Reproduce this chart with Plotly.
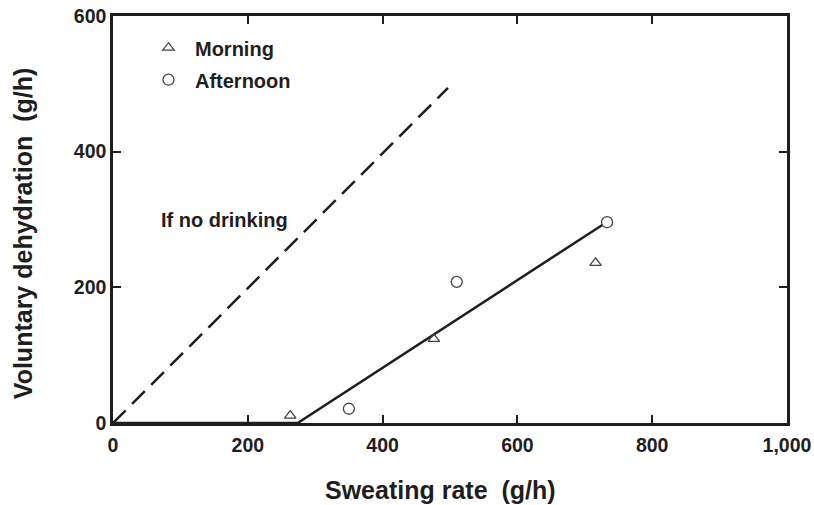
import plotly.graph_objects as go

# Data
morning_x = [263, 476, 716]
morning_y = [11, 124, 236]
afternoon_x = [350, 510, 733]
afternoon_y = [21, 208, 296]
fit_x = [0, 274, 726]
fit_y = [0, 0, 292]
nodrink_x = [0, 497]
nodrink_y = [0, 494]
x_ticks = [0, 200, 400, 600, 800, 1000]
x_tick_labels = ["0", "200", "400", "600", "800", "1,000"]
y_ticks = [0, 200, 400, 600]
y_tick_labels = ["0", "200", "400", "600"]

FONT = "Arial, Liberation Sans, sans-serif"
DARK = "#1e1e1e"

fig = go.Figure()
fig.add_trace(go.Scatter(x=nodrink_x, y=nodrink_y, mode="lines",
                         line=dict(color=DARK, width=2.5, dash="18px,9px"),
                         showlegend=False, hoverinfo="skip"))
fig.add_trace(go.Scatter(x=fit_x, y=fit_y, mode="lines",
                         line=dict(color=DARK, width=2.5),
                         showlegend=False, hoverinfo="skip"))
fig.add_trace(go.Scatter(x=morning_x, y=morning_y, mode="markers", name="Morning",
                         legendgroup="m",
                         marker=dict(symbol="triangle-up-open", size=10,
                                     color="#444", line=dict(width=1.3, color="#444"))))
fig.add_trace(go.Scatter(x=afternoon_x, y=afternoon_y, mode="markers", name="Afternoon",
                         legendgroup="a",
                         marker=dict(symbol="circle-open", size=11,
                                     color="#444", line=dict(width=1.3, color="#444"))))

fig.add_annotation(x=165, y=299, text="If no drinking", showarrow=False,
                   xanchor="center", yanchor="middle",
                   font=dict(family=FONT, size=20, color=DARK, weight="bold"))

# axis titles as annotations for precise placement
fig.add_annotation(xref="paper", yref="paper", x=0.4866, y=-0.1646,
                   xanchor="center", yanchor="middle",
                   text="Sweating rate  (g/h)", showarrow=False,
                   font=dict(family=FONT, size=25, color=DARK, weight="bold"))
fig.add_annotation(xref="paper", yref="paper", x=-0.1335, y=0.464, textangle=-90,
                   xanchor="center", yanchor="middle",
                   text="Voluntary dehydration  (g/h)", showarrow=False,
                   font=dict(family=FONT, size=25, color=DARK, weight="bold"))

axis_common = dict(showgrid=False, zeroline=False, showline=True, linecolor=DARK,
                   linewidth=2.5, mirror="ticks", ticks="inside", ticklen=8,
                   tickwidth=2, tickcolor=DARK, automargin=False,
                   tickfont=dict(family=FONT, size=19.5, color=DARK, weight="bold"))

fig.update_layout(
    template="none",
    width=814, height=505,
    margin=dict(l=113, r=27, t=16, b=82),
    paper_bgcolor="white", plot_bgcolor="white",
    font=dict(family=FONT, color=DARK),
    xaxis=dict(range=[0, 1000], tickvals=x_ticks, ticktext=x_tick_labels,
               ticklabelstandoff=3, **axis_common),
    yaxis=dict(range=[0, 600], tickvals=y_ticks, ticktext=y_tick_labels,
               **axis_common),
    legend=dict(x=0.043, y=0.970, xanchor="left", yanchor="top",
                bgcolor="rgba(0,0,0,0)", itemwidth=43, tracegroupgap=3,
                traceorder="grouped", borderwidth=0,
                font=dict(family=FONT, size=20, color=DARK, weight="bold")),
)

fig.write_html("out.html", config={"displayModeBar": False},
               post_script="document.body.style.margin='0';document.body.style.overflow='hidden';")
